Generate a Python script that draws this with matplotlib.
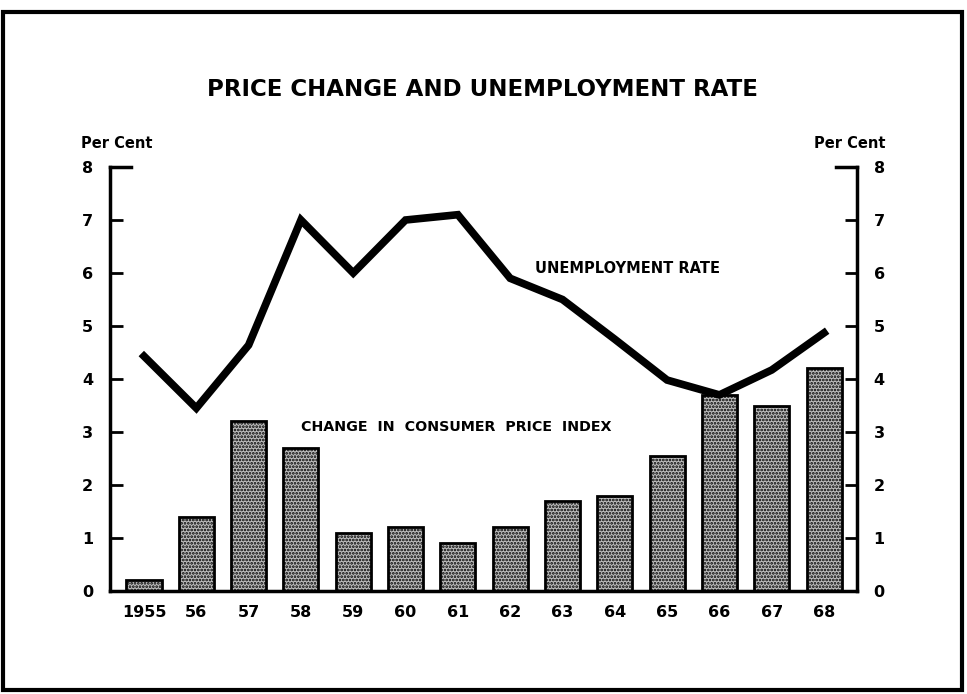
import numpy as np
import matplotlib
matplotlib.use("Agg")
import matplotlib.pyplot as plt
from matplotlib.patches import Rectangle

plt.rcParams['font.family'] = ['DejaVu Sans']
plt.rcParams['hatch.linewidth'] = 1.3

# Datos
anios = ["1955", "56", "57", "58", "59", "60", "61", "62", "63", "64", "65", "66", "67", "68"]
cambio_ipc = [0.2, 1.4, 3.2, 2.7, 1.1, 1.2, 0.9, 1.2, 1.7, 1.8, 2.55, 3.7, 3.5, 4.2]
desempleo = [4.43, 3.45, 4.64, 7.0, 6.0, 7.0, 7.1, 5.9, 5.5, 4.75, 3.98, 3.7, 4.17, 4.87]
ticks_y = [0, 1, 2, 3, 4, 5, 6, 7, 8]

fig = plt.figure(figsize=(9.67, 6.94), dpi=100)
ax = fig.add_axes([110 / 967, 103 / 694, 747 / 967, 424 / 694])

x = np.arange(len(anios))
ax.bar(x, cambio_ipc, width=0.67, color='#bdbdbd', edgecolor='black',
       linewidth=2, hatch='.....', zorder=2)
ax.plot(x, desempleo, color='black', linewidth=5.5, solid_joinstyle='miter', zorder=3)

ax.set_xlim(-0.65, len(anios) - 1 + 0.63)
ax.set_ylim(0, 8)

ax.spines['top'].set_visible(False)
for s in ['left', 'right', 'bottom']:
    ax.spines[s].set_linewidth(2.5)

ax.set_yticks(ticks_y)
ax.set_yticklabels([str(t) for t in ticks_y], fontsize=11.5, fontweight='bold')
ax.tick_params(axis='y', direction='in', length=9, width=2, pad=12,
               left=True, right=True, labelleft=True, labelright=True)
ax.set_xticks(x)
ax.set_xticklabels(anios, fontsize=11.5, fontweight='bold')
ax.tick_params(axis='x', length=0, pad=10)

# marca superior mas larga en 8
ax.plot([-0.65, -0.25], [8, 8], color='black', linewidth=2.5, clip_on=False)
ax.plot([len(anios) - 1 + 0.23, len(anios) - 1 + 0.63], [8, 8], color='black', linewidth=2.5, clip_on=False)

ax.text(9.25, 6.09, "UNEMPLOYMENT RATE", fontsize=10.5, fontweight='bold', ha='center', va='center')
ax.text(5.97, 3.09, "CHANGE  IN  CONSUMER  PRICE  INDEX", fontsize=10.3, fontweight='bold', ha='center', va='center')

fig.text(117 / 967, 1 - 143 / 694, "Per Cent", fontsize=10.5, fontweight='bold', ha='center', va='center')
fig.text(850 / 967, 1 - 143 / 694, "Per Cent", fontsize=10.5, fontweight='bold', ha='center', va='center')
fig.text(482 / 967, 1 - 90 / 694, "PRICE CHANGE AND UNEMPLOYMENT RATE", fontsize=16.5,
         fontweight='bold', ha='center', va='center')

# marco
fig.patches.append(Rectangle((3 / 967, 4 / 694), 959 / 967, 678 / 694, transform=fig.transFigure,
                             fill=False, edgecolor='black', linewidth=3))

fig.savefig("out.png", dpi=100)
